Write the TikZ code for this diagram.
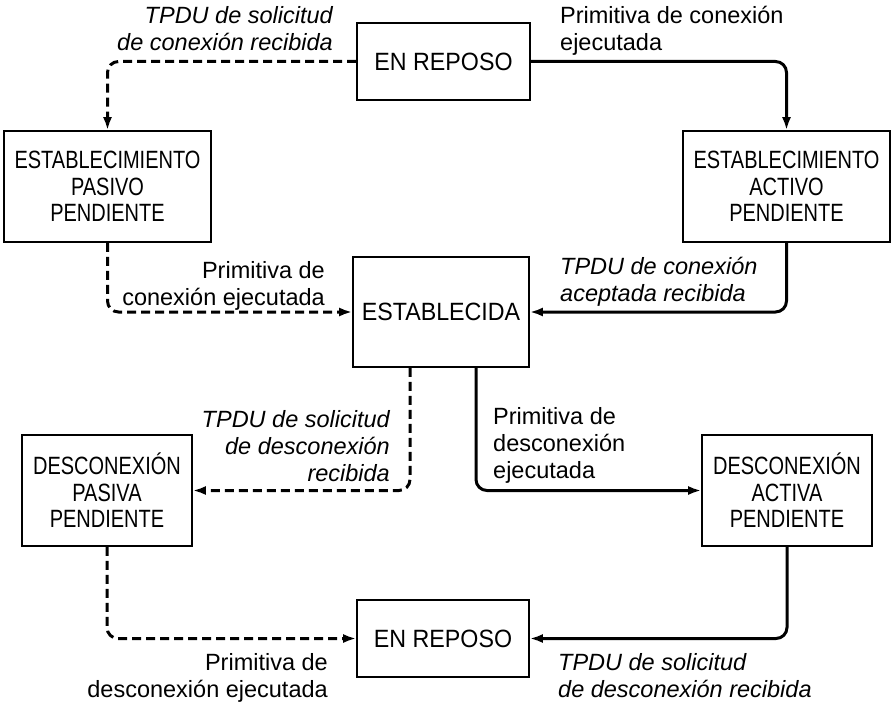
\documentclass[tikz,border=0pt]{standalone}
\usepackage{fontspec}
\setmainfont{Liberation Sans}
\newfontfamily\condfont[FakeStretch=0.8]{Liberation Sans}
\newfontfamily\semicondfont[FakeStretch=0.93]{Liberation Sans}
\usetikzlibrary{arrows.meta}
\begin{document}
\begin{tikzpicture}[x=1pt,y=-1pt,
  box/.style={draw, line width=1.6pt, inner sep=0pt, align=center,
    font=\condfont\fontsize{25}{26.5}\selectfont},
  widebox/.style={box, font=\semicondfont\fontsize{25}{26.5}\selectfont},
  lbl/.style={inner sep=0pt, font=\fontsize{23.5}{27}\selectfont},
  ilbl/.style={lbl, font=\itshape\fontsize{23.5}{27}\selectfont},
  conn/.style={line width=3pt, rounded corners=11pt, -{Latex[length=13pt,width=9pt]}},
  dsh/.style={conn, dash pattern=on 9pt off 5pt}]
\useasboundingbox (0,0) rectangle (894,706);

\node[widebox, minimum width=173pt, minimum height=77pt] (rep1) at (443.5,61.5) {EN REPOSO};
\node[box, minimum width=207pt, minimum height=111pt] (estpas) at (107.5,186.5) {ESTABLECIMIENTO\\PASIVO\\PENDIENTE};
\node[box, minimum width=207pt, minimum height=111pt] (estact) at (786.5,186.5) {ESTABLECIMIENTO\\ACTIVO\\PENDIENTE};
\node[widebox, minimum width=176pt, minimum height=110pt] (estab) at (441,312) {ESTABLECIDA};
\node[box, minimum width=170pt, minimum height=111pt] (despas) at (107,490.5) {DESCONEXIÓN\\PASIVA\\PENDIENTE};
\node[box, minimum width=170pt, minimum height=111pt] (desact) at (787,490.5) {DESCONEXIÓN\\ACTIVA\\PENDIENTE};
\node[widebox, minimum width=172pt, minimum height=77pt] (rep2) at (443,638.5) {EN REPOSO};

\draw[dsh] (rep1.west) -| (estpas.north);
\draw[conn] (rep1.east) -| (estact.north);
\draw[dsh] (estpas.south) |- (estab.west);
\draw[conn] (estact.south) |- (estab.east);
\draw[dsh] ([xshift=-31pt]estab.south) |- (despas.east);
\draw[conn] ([xshift=35pt]estab.south) |- (desact.west);
\draw[dsh] (despas.south) |- (rep2.west);
\draw[conn] (desact.south) |- (rep2.east);

\node[ilbl, anchor=north east, align=right] (l1) at (333,6) {TPDU de solicitud\\de conexión recibida};
\node[lbl, anchor=north west, align=left] (l2) at (560,6) {Primitiva de conexión\\ejecutada};
\node[lbl, anchor=north east, align=right] (l3) at (325,261) {Primitiva de\\conexión ejecutada};
\node[ilbl, anchor=north west, align=left] (l4) at (560,257) {TPDU de conexión\\aceptada recibida};
\node[ilbl, anchor=north east, align=right] (l5) at (390,410) {TPDU de solicitud\\de desconexión\\recibida};
\node[lbl, anchor=north west, align=left] (l6) at (493,407) {Primitiva de\\desconexión\\ejecutada};
\node[lbl, anchor=north east, align=right] (l7) at (328,653) {Primitiva de\\desconexión ejecutada};
\node[ilbl, anchor=north west, align=left] (l8) at (558,653) {TPDU de solicitud\\de desconexión recibida};
\end{tikzpicture}
\end{document}
